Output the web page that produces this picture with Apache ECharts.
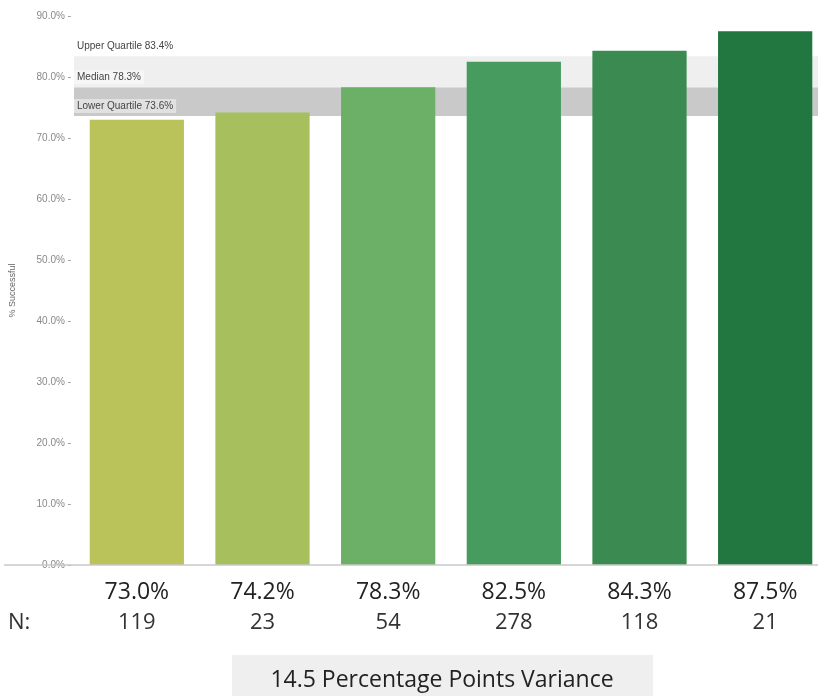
<!DOCTYPE html>
<html>
<head>
<meta charset="utf-8">
<script src="https://cdn.jsdelivr.net/npm/echarts@6/dist/echarts.min.js"></script>
<style>
  html, body { margin: 0; padding: 0; background: #fff; overflow: hidden; }
  #chart { width: 828px; height: 696px; }
</style>
</head>
<body>
<div id="chart"></div>
<script>
// data
const groups = ['G1', 'G2', 'G3', 'G4', 'G5', 'G6']
const successRate = [73.0, 74.2, 78.3, 82.5, 84.3, 87.5]
const sampleSize = [119, 23, 54, 278, 118, 21]
const barColors = ['#b9c35a', '#a8bf5d', '#6caf66', '#489b5f', '#3a8a52', '#227640']
const upperQuartile = 83.4
const median = 78.3
const lowerQuartile = 73.6
const yTicks = [0, 10, 20, 30, 40, 50, 60, 70, 80, 90]

const gridTop = 16
const gridBottom = 131
const textFont = '"Open Sans", "Noto Sans", sans-serif'
const smallFont = '"Liberation Sans", Arial, sans-serif'

// the plot runs a little past the right edge of the window, like the original
const chart = echarts.init(document.getElementById('chart'))
const variance = (Math.max(...successRate) - Math.min(...successRate)).toFixed(1)

chart.setOption({
  animation: false,
  grid: { left: 74, right: 0, top: gridTop, bottom: gridBottom },
  xAxis: {
    type: 'category',
    data: groups,
    axisLine: { show: false },
    axisTick: { show: false },
    axisLabel: {
      margin: 12,
      formatter: (v, i) => '{p|' + successRate[i].toFixed(1) + '%}\n{n|' + sampleSize[i] + '}',
      rich: {
        p: { fontSize: 23, lineHeight: 30, color: '#222', fontFamily: textFont },
        n: { fontSize: 22, lineHeight: 32, color: '#333', fontFamily: textFont },
      },
    },
  },
  yAxis: {
    type: 'value',
    min: yTicks[0],
    max: yTicks[yTicks.length - 1],
    interval: 10,
    name: '% Successful',
    nameLocation: 'middle',
    nameRotate: 90,
    nameGap: 57,
    nameTextStyle: { fontSize: 9, color: '#666', fontFamily: smallFont },
    axisLine: { show: false },
    axisTick: { show: false },
    splitLine: { show: false },
    axisLabel: {
      margin: 3,
      fontSize: 10,
      color: '#888',
      fontFamily: smallFont,
      formatter: (v) => v.toFixed(1) + '% -',
    },
  },
  series: [
    {
      type: 'line',
      z: 1,
      data: [],
      symbol: 'none',
      silent: true,
      markArea: {
        silent: true,
        data: [
          [{ yAxis: lowerQuartile, itemStyle: { color: '#c9c9c9' } }, { yAxis: median }],
          [{ yAxis: median, itemStyle: { color: '#efefef' } }, { yAxis: upperQuartile }],
        ],
      },
    },
    {
      type: 'bar',
      z: 2,
      barCategoryGap: '25%',
      data: successRate.map((v, i) => ({ value: v, itemStyle: { color: barColors[i] } })),
      markLine: {
        silent: true,
        symbol: 'none',
        lineStyle: { color: 'rgba(0,0,0,0)', width: 1, type: 'solid' },
        label: {
          show: true,
          position: 'insideStartTop',
          distance: [0, 3],
          formatter: '{b}',
          fontSize: 10,
          color: '#444',
          fontFamily: smallFont,
          backgroundColor: 'rgba(255,255,255,0.45)',
          padding: [2, 3],
        },
        data: [
          { yAxis: upperQuartile, name: 'Upper Quartile ' + upperQuartile.toFixed(1) + '%' },
          { yAxis: median, name: 'Median ' + median.toFixed(1) + '%' },
          { yAxis: lowerQuartile, name: 'Lower Quartile ' + lowerQuartile.toFixed(1) + '%' },
        ],
      },
    },
  ],
  graphic: [
    {
      type: 'line',
      shape: { x1: 4, y1: 696 - gridBottom, x2: 828, y2: 696 - gridBottom },
      style: { stroke: '#c8c8c8', lineWidth: 1.5 },
      z: 10,
    },
    {
      type: 'text',
      left: 8,
      top: 612,
      style: { text: 'N:', fill: '#333', font: '22px ' + textFont },
    },
    {
      type: 'rect',
      shape: { x: 232, y: 655, width: 421, height: 45 },
      style: { fill: '#efefef' },
    },
    {
      type: 'text',
      x: 442,
      y: 680,
      style: {
        text: variance + ' Percentage Points Variance',
        font: '23px ' + textFont,
        fill: '#222',
        align: 'center',
        verticalAlign: 'middle',
      },
    },
  ],
})
</script>
</body>
</html>
